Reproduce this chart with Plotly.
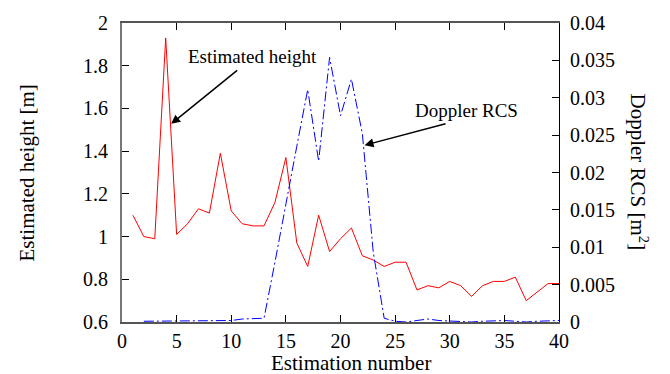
import plotly.graph_objects as go

est_x = list(range(1, 41))
height = [1.10, 1.00, 0.99, 1.93, 1.01, 1.06, 1.13, 1.11, 1.39, 1.12,
          1.06, 1.05, 1.05, 1.16, 1.37, 0.97, 0.86, 1.10, 0.93, 0.99,
          1.04, 0.91, 0.89, 0.86, 0.88, 0.88, 0.75, 0.77, 0.76, 0.79,
          0.77, 0.72, 0.77, 0.79, 0.79, 0.81, 0.70, 0.74, 0.78, 0.78]

rcs_x = list(range(2, 41))
rcs = [0.0001, 0.0001, 0.0001, 0.0001, 0.0002, 0.0002, 0.0001, 0.0002, 0.0002,
       0.0004, 0.0004, 0.0005, 0.008, 0.0155, 0.0235, 0.0311, 0.0215, 0.0354,
       0.0276, 0.0325, 0.0252, 0.0093, 0.0005, 0.0001, 0.0, 0.0002, 0.0004,
       0.0002, 0.0001, 0.0001, 0.0, 0.0001, 0.0002, 0.0002, 0.0001, 0.0,
       0.0001, 0.0002, 0.0002]

FONT = "Times New Roman, Liberation Serif, DejaVu Serif, serif"
TICK = 20
TITLE = 21
ANN = 19

fig = go.Figure()
fig.add_trace(go.Scatter(x=est_x, y=height, mode="lines",
                         line=dict(color="#ff0000", width=1), yaxis="y"))
fig.add_trace(go.Scatter(x=rcs_x, y=rcs, mode="lines",
                         line=dict(color="#0000ff", width=1, dash="10px,3px,2px,3px"),
                         yaxis="y2"))

fig.update_layout(
    width=670, height=374,
    margin=dict(l=122, r=111, t=14, b=52),
    plot_bgcolor="white", paper_bgcolor="white",
    showlegend=False,
    font=dict(family=FONT, size=TICK, color="black"),
    xaxis=dict(range=[0, 40], dtick=5, tick0=0, ticks="inside", ticklen=7,
               tickcolor="black", showline=True, linecolor="#555", linewidth=1.5,
               mirror="ticks", showgrid=False, zeroline=False,
               tickfont=dict(family=FONT, size=TICK)),
    yaxis=dict(range=[0.6, 2.0], dtick=0.2, tick0=0.6, ticks="inside", ticklen=7,
               tickcolor="black", showline=True, linecolor="#777", linewidth=2,
               showgrid=False, zeroline=False, ticklabelstandoff=8,
               tickfont=dict(family=FONT, size=TICK)),
    yaxis2=dict(range=[0, 0.04], dtick=0.005, tick0=0, ticks="inside", ticklen=7,
                tickcolor="black", showline=True, linecolor="black", linewidth=1,
                overlaying="y", side="right", showgrid=False, zeroline=False,
                ticklabelstandoff=6, tickfont=dict(family=FONT, size=TICK)),
)

ann = []
ann.append(dict(text="Estimated height [m]", xref="paper", yref="paper",
                x=-0.2174, y=0.5, textangle=-90, showarrow=False,
                xanchor="center", yanchor="middle", font=dict(family=FONT, size=TITLE)))
ann.append(dict(text="Doppler RCS [m<sup>2</sup>]", xref="paper", yref="paper",
                x=1.183, y=0.5, textangle=90, showarrow=False,
                xanchor="center", yanchor="middle", font=dict(family=FONT, size=TITLE)))
ann.append(dict(text="Estimation number", xref="paper", yref="paper",
                x=0.525, y=-0.137, showarrow=False,
                xanchor="center", yanchor="middle", font=dict(family=FONT, size=TITLE)))
ann.append(dict(text="Estimated height", x=11.9, y=1.842, xref="x", yref="y",
                showarrow=False, xanchor="center", yanchor="middle",
                font=dict(family=FONT, size=ANN)))
ann.append(dict(text=" ", x=4.5, y=1.528, xref="x", yref="y", showarrow=True,
                ax=68, ay=-55, arrowhead=2, arrowsize=1.2, arrowwidth=1.5,
                arrowcolor="black", standoff=0, font=dict(size=4)))
ann.append(dict(text="Doppler RCS", x=31.5, y=0.02833, xref="x", yref="y2",
                showarrow=False, xanchor="center", yanchor="middle",
                font=dict(family=FONT, size=ANN)))
ann.append(dict(text=" ", x=22.2, y=0.02365, xref="x", yref="y2", showarrow=True,
                ax=83, ay=-22, arrowhead=2, arrowsize=1.2, arrowwidth=1.5,
                arrowcolor="black", standoff=0, font=dict(size=4)))
fig.update_layout(annotations=ann)

fig.write_html("out.html")
